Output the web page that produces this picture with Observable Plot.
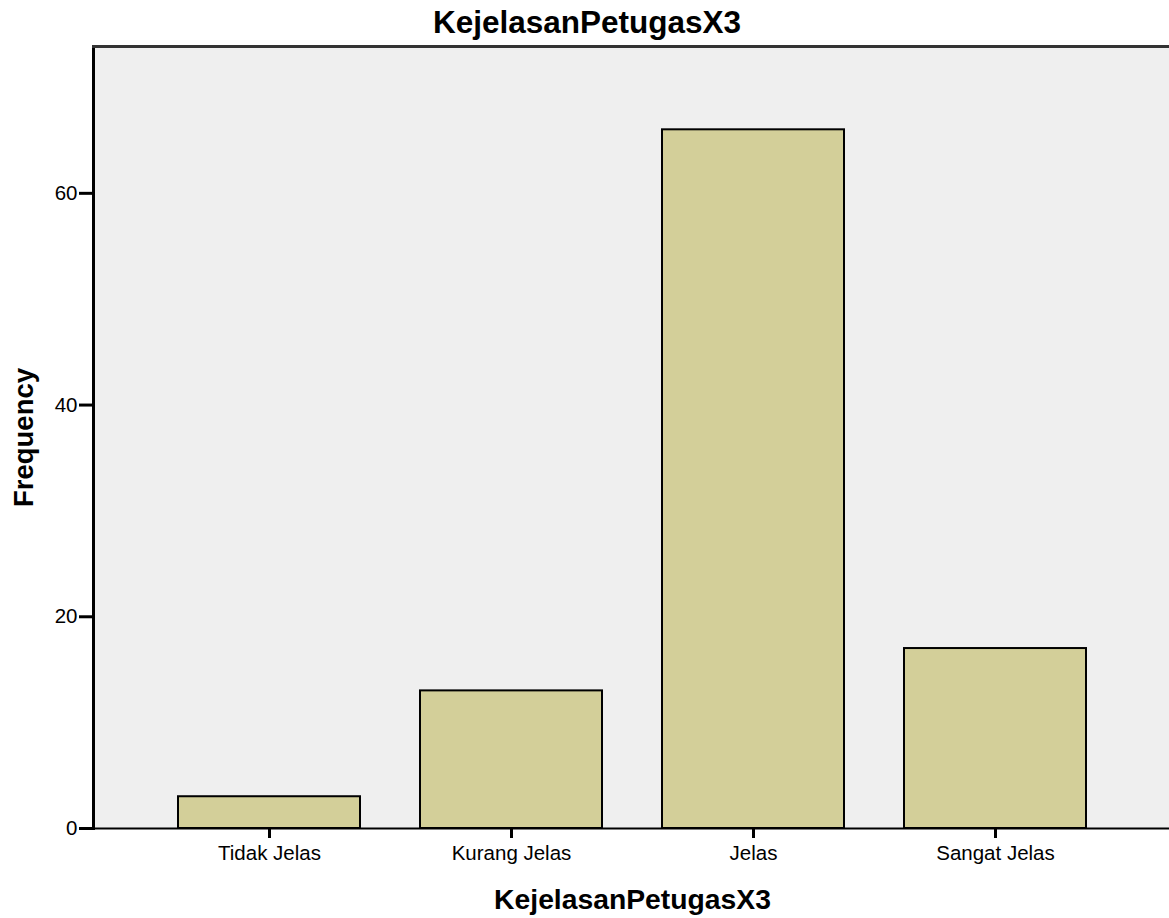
<!DOCTYPE html>
<html>
<head>
<meta charset="utf-8">
<script src="https://cdn.jsdelivr.net/npm/d3@7"></script>
<script src="https://cdn.jsdelivr.net/npm/@observablehq/plot@0.6"></script>
<style>
  html, body { margin: 0; padding: 0; background: #fff; }
  #wrap { position: relative; width: 1169px; height: 918px; overflow: hidden; }
  #title { position: absolute; left: 0; top: 4px; width: 1174px; text-align: center; line-height: 1;
           font: bold 31.5px "Liberation Sans", Arial, sans-serif; color: #000; white-space: nowrap; }
</style>
</head>
<body>
<div id="wrap">
  <div id="title">KejelasanPetugasX3</div>
</div>
<script>
const categories = ["Tidak Jelas", "Kurang Jelas", "Jelas", "Sangat Jelas"];
const frequencies = [3, 13, 66, 17];
const yTicks = [0, 20, 40, 60];

const data = categories.map((c, i) => ({category: c, frequency: frequencies[i]}));

const chart = Plot.plot({
  width: 1169,
  height: 918,
  marginTop: 46,
  marginBottom: 90,
  marginLeft: 93,
  marginRight: -2,
  style: {fontFamily: "'Liberation Sans', Arial, sans-serif", fontSize: "20.5px", color: "#000", background: "transparent"},
  x: {domain: categories, paddingInner: 0.25, paddingOuter: 0.345, label: null},
  y: {domain: [0, 73.87], label: null},
  marks: [
    Plot.frame({fill: "#efefef", stroke: null}),
    Plot.ruleY([0], {stroke: "#000", strokeWidth: 2}),
    Plot.barY(data, {x: "category", y: "frequency", fill: "#d3cf99", stroke: "#000", strokeWidth: 2}),
    Plot.axisX({tickSize: 10, tickPadding: 7, strokeWidth: 3, stroke: "#000", fontSize: 20.5,
      label: "KejelasanPetugasX3", labelAnchor: "center", labelArrow: "none", labelOffset: 80}),
    Plot.axisY({ticks: yTicks, tickSize: 14, tickPadding: 2, strokeWidth: 3, fontSize: 20.5,
      label: "Frequency", labelAnchor: "center", labelArrow: "none", labelOffset: 80}),
    Plot.frame({anchor: "left", stroke: "#000", strokeWidth: 3}),
    Plot.frame({anchor: "top", stroke: "#333", strokeWidth: 3})
  ]
});
chart.querySelectorAll('[aria-label="x-axis label"] text').forEach(t => {
  t.style.fontWeight = "bold"; t.style.fontSize = "28.3px";
});
chart.querySelectorAll('[aria-label="y-axis label"] text').forEach(t => {
  t.style.fontWeight = "bold"; t.style.fontSize = "27.5px";
});
document.getElementById("wrap").appendChild(chart);
chart.style.position = "absolute";
chart.style.left = "0"; chart.style.top = "0";
</script>
</body>
</html>
